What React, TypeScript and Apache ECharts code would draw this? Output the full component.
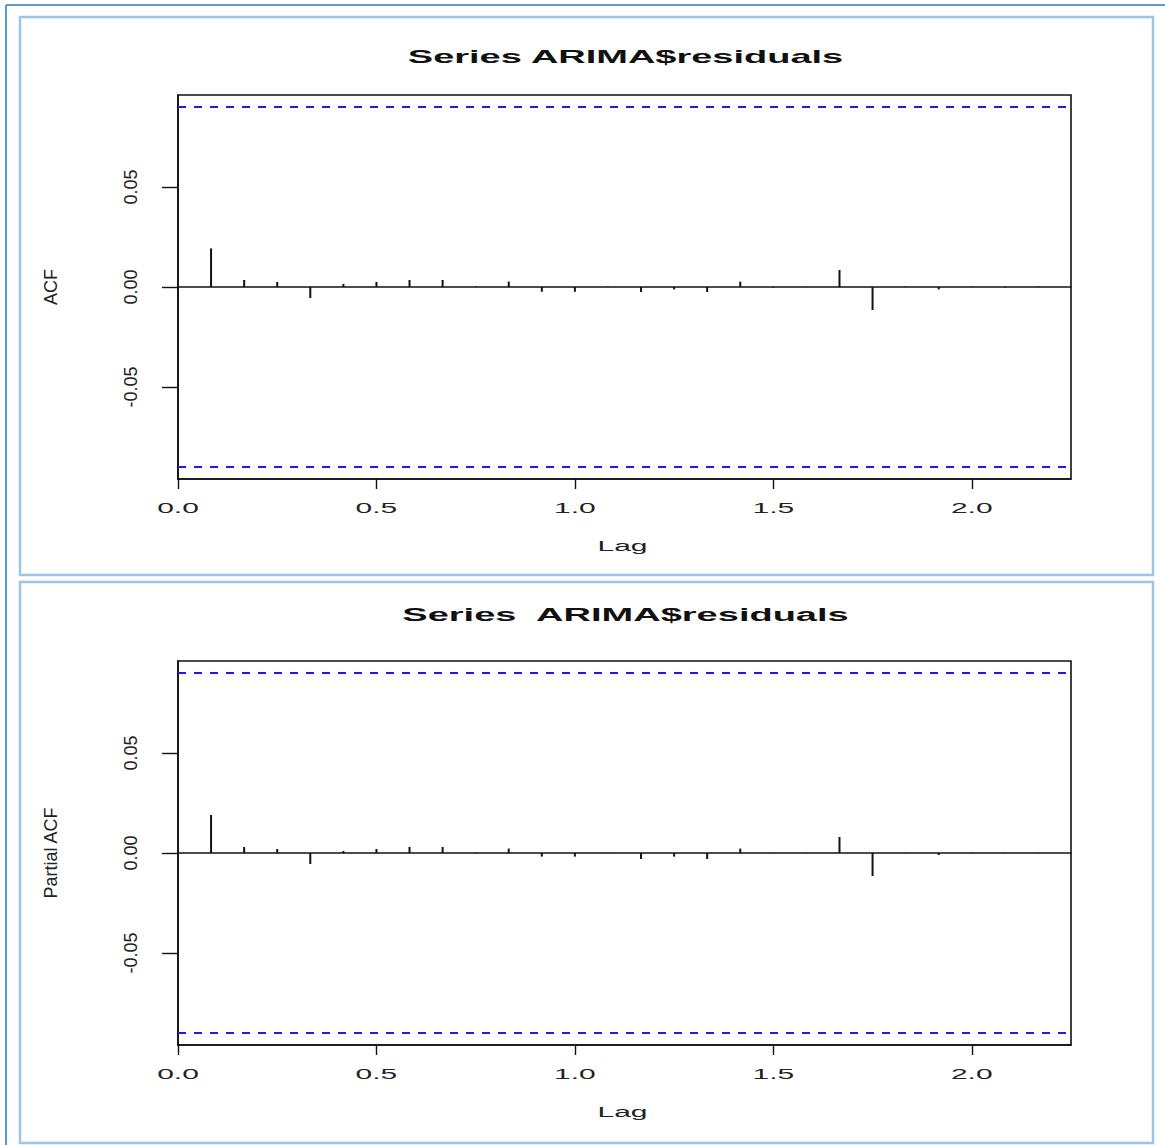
import { useEffect, useRef } from "react";
import * as echarts from "echarts";

// ---- data ----
const LAGS = [
  0.0833, 0.1667, 0.25, 0.3333, 0.4167, 0.5, 0.5833, 0.6667, 0.75, 0.8333,
  0.9167, 1.0, 1.0833, 1.1667, 1.25, 1.3333, 1.4167, 1.5, 1.5833, 1.6667,
  1.75, 1.8333, 1.9167, 2.0, 2.0833, 2.1667, 2.25,
];
const ACF_VALUES = [
  0.0193, 0.0035, 0.0025, -0.0055, 0.0015, 0.0025, 0.0035, 0.0035, 0.0003,
  0.0027, -0.0024, -0.0024, 0.0003, -0.0025, -0.0012, -0.0025, 0.0027,
  -0.0003, 0.0002, 0.0085, -0.0115, 0.0003, -0.0012, 0.0002, -0.0003, 0.0003,
  -0.0002,
];
const PACF_VALUES = [
  0.019, 0.003, 0.002, -0.0055, 0.001, 0.002, 0.003, 0.003, 0.0003, 0.0022,
  -0.0018, -0.0018, 0.0002, -0.003, -0.0018, -0.003, 0.0022, -0.0002, 0.0002,
  0.008, -0.0115, 0.0002, -0.001, 0.0002, -0.0002, 0.0002, -0.0002,
];
const CONF_BOUND = 0.0882;
const X_TICKS = [0, 0.5, 1, 1.5, 2];
const X_TICK_LABELS = ["0.0", "0.5", "1.0", "1.5", "2.0"];
const Y_TICKS = [-0.05, 0, 0.05];
const Y_TICK_LABELS = ["-0.05", "0.00", "0.05"];
const TITLES = ["Series ARIMA$residuals", "Series  ARIMA$residuals"];
const Y_NAMES = ["ACF", "Partial ACF"];
const X_NAME = "Lag";
const X_RANGE = [0, 2.25];
const Y_RANGE = [-0.096, 0.096];

const FONT = '"Liberation Sans", Arial, Helvetica, sans-serif';

function measure(text: string, font: string): number {
  const c = document.createElement("canvas");
  const ctx = c.getContext("2d")!;
  ctx.font = font;
  return ctx.measureText(text).width || 1;
}

export default function App() {
  const ref = useRef<HTMLDivElement>(null);

  useEffect(() => {
    document.body.style.margin = "0";
    const chart = echarts.init(ref.current!, undefined, { renderer: "svg" });
    const panels = [ACF_VALUES, PACF_VALUES];
    const grids = [
      { left: 178, top: 95, width: 893, height: 384 },
      { left: 178, top: 661, width: 893, height: 384 },
    ];
    const titleOffsets = [38, 46];
    const axisColor = "#111";

    const option: any = {
      animation: false,
      backgroundColor: "#fff",
      grid: grids.map((g) => ({
        ...g,
        show: true,
        borderColor: axisColor,
        borderWidth: 1.6,
        backgroundColor: "transparent",
      })),
      xAxis: grids.map((_, i) => ({
        type: "value",
        gridIndex: i,
        min: X_RANGE[0],
        max: X_RANGE[1],
        axisLine: { show: true, onZero: false, lineStyle: { color: axisColor, width: 1.6 } },
        axisTick: {
          show: true,
          inside: false,
          length: 10,
          customValues: X_TICKS,
          lineStyle: { color: axisColor, width: 1.4 },
        },
        axisLabel: { show: false },
        splitLine: { show: false },
      })),
      yAxis: grids.map((_, i) => ({
        type: "value",
        gridIndex: i,
        min: Y_RANGE[0],
        max: Y_RANGE[1],
        axisLine: { show: true, onZero: false, lineStyle: { color: axisColor, width: 1.6 } },
        axisTick: {
          show: true,
          inside: false,
          length: 16,
          customValues: Y_TICKS,
          lineStyle: { color: axisColor, width: 1.4 },
        },
        axisLabel: {
          show: true,
          rotate: 90,
          margin: 38,
          fontSize: 18,
          fontFamily: FONT,
          color: "#222",
          customValues: Y_TICKS,
          formatter: (v: number) => {
            const idx = Y_TICKS.findIndex((t) => Math.abs(t - v) < 1e-9);
            return idx >= 0 ? Y_TICK_LABELS[idx] : "";
          },
        },
        splitLine: { show: false },
        name: Y_NAMES[i],
        nameLocation: "middle",
        nameRotate: 90,
        nameGap: 118,
        nameTextStyle: { fontSize: 18, fontFamily: FONT, color: "#222" },
      })),
      series: panels.map((vals, i) => ({
        type: "bar",
        xAxisIndex: i,
        yAxisIndex: i,
        barWidth: 2,
        itemStyle: { color: "#111" },
        data: LAGS.map((l, k) => [l, vals[k]]),
        markLine: {
          silent: true,
          symbol: "none",
          label: { show: false },
          data: [
            { yAxis: 0, lineStyle: { color: "#111", width: 1.6, type: "solid" } },
            { yAxis: CONF_BOUND, lineStyle: { color: "#1a1aff", width: 2, type: [8, 8] } },
            { yAxis: -CONF_BOUND, lineStyle: { color: "#1a1aff", width: 2, type: [8, 8] } },
          ],
        },
      })),
    };
    chart.setOption(option);

    const graphics: any[] = [];
    // frames
    graphics.push({
      type: "line",
      shape: { x1: 6, y1: 5, x2: 1165, y2: 5 },
      style: { stroke: "#5b9bd5", lineWidth: 2 },
    });
    graphics.push({
      type: "line",
      shape: { x1: 6, y1: 5, x2: 6, y2: 1145 },
      style: { stroke: "#5b9bd5", lineWidth: 2 },
    });
    graphics.push({
      type: "rect",
      shape: { x: 20, y: 17, width: 1133, height: 558 },
      style: { stroke: "#9dc3e6", lineWidth: 2.5, fill: "none" },
    });
    graphics.push({
      type: "rect",
      shape: { x: 20, y: 582, width: 1133, height: 561 },
      style: { stroke: "#9dc3e6", lineWidth: 2.5, fill: "none" },
    });

    const tickFont = `15px ${FONT}`;
    const titleFont = `bold 18px ${FONT}`;
    grids.forEach((g, i) => {
      const bottom = chart.convertToPixel({ yAxisIndex: i } as any, Y_RANGE[0]) as any as number;
      const top = chart.convertToPixel({ yAxisIndex: i } as any, Y_RANGE[1]) as any as number;
      const left = chart.convertToPixel({ xAxisIndex: i } as any, X_RANGE[0]) as any as number;
      const right = chart.convertToPixel({ xAxisIndex: i } as any, X_RANGE[1]) as any as number;
      const cx = (left + right) / 2;
      X_TICKS.forEach((t, k) => {
        const px = chart.convertToPixel({ xAxisIndex: i } as any, t) as any as number;
        graphics.push({
          type: "text",
          x: px,
          y: bottom + 29,
          scaleX: 2.0,
          style: {
            text: X_TICK_LABELS[k],
            fontSize: 15,
            fontFamily: FONT,
            fill: "#222",
            align: "center",
            verticalAlign: "middle",
          },
        });
      });
      const lagW = measure(X_NAME, tickFont);
      graphics.push({
        type: "text",
        x: cx - 2,
        y: bottom + 67,
        scaleX: 50 / lagW,
        style: {
          text: X_NAME,
          fontSize: 15,
          fontFamily: FONT,
          fill: "#222",
          align: "center",
          verticalAlign: "middle",
        },
      });
      const tw = measure(TITLES[i], titleFont);
      graphics.push({
        type: "text",
        x: cx + 1,
        y: top - titleOffsets[i],
        scaleX: (i === 0 ? 437 : 448) / tw,
        style: {
          text: TITLES[i],
          fontSize: 18,
          fontWeight: "bold",
          fontFamily: FONT,
          fill: "#111",
          align: "center",
          verticalAlign: "middle",
        },
      });
    });
    chart.setOption({ graphic: graphics });

    return () => chart.dispose();
  }, []);

  return <div ref={ref} style={{ width: 1165, height: 1145 }} />;
}
